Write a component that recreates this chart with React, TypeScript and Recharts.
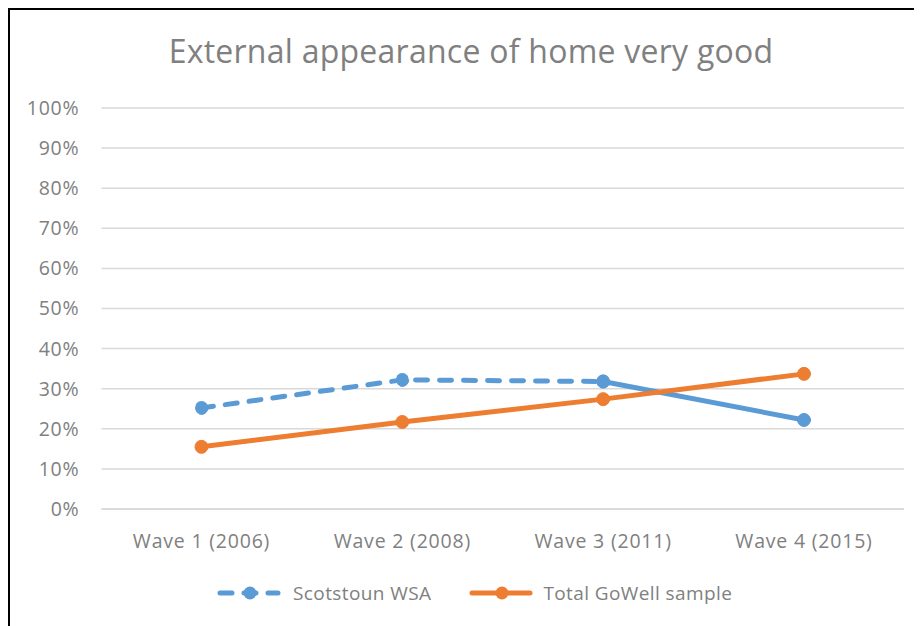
import { LineChart, Line, XAxis, YAxis, CartesianGrid } from "recharts";

const waves = ["Wave 1 (2006)", "Wave 2 (2008)", "Wave 3 (2011)", "Wave 4 (2015)"];
const scotstoun = [25.2, 32.2, 31.8, 22.2];
const totalGoWell = [15.5, 21.7, 27.4, 33.7];
const yTicks = [0, 10, 20, 30, 40, 50, 60, 70, 80, 90, 100];

const BLUE = "#5B9BD5";
const ORANGE = "#ED7D31";
const TEXT = "#808080";
const FONT = "'Open Sans', 'Liberation Sans', sans-serif";

// Scotstoun is dashed up to wave 3, then solid to wave 4
const data = waves.map((wave, i) => ({
  wave,
  scotDash: i <= 2 ? scotstoun[i] : null,
  scotSolid: i >= 2 ? scotstoun[i] : null,
  total: totalGoWell[i],
}));

function LegendItem({ color, dashed, label }: { color: string; dashed?: boolean; label: string }) {
  return (
    <div style={{ display: "flex", alignItems: "center" }}>
      <svg width={64} height={16}>
        <line
          x1={3}
          x2={61}
          y1={8}
          y2={8}
          stroke={color}
          strokeWidth={5}
          strokeLinecap="round"
          strokeDasharray={dashed ? "12 12" : undefined}
        />
        <circle cx={33} cy={8} r={6.5} fill={color} />
      </svg>
      <span style={{ marginLeft: dashed ? 12 : 10, fontSize: 19, letterSpacing: 0.4, color: TEXT }}>
        {label}
      </span>
    </div>
  );
}

export default function App() {
  return (
    <div
      style={{
        position: "relative",
        width: 914,
        height: 618,
        borderTop: "2px solid #000",
        borderLeft: "2px solid #000",
        fontFamily: FONT,
        background: "#fff",
      }}
    >
      <div
        style={{
          position: "absolute",
          top: 19,
          left: 0,
          width: 922,
          textAlign: "center",
          fontSize: 32,
          letterSpacing: 0.25,
          color: TEXT,
        }}
      >
        External appearance of home very good
      </div>
      <LineChart
        width={912}
        height={616}
        data={data}
        margin={{ top: 98, right: 18, left: 0, bottom: 0 }}
      >
        <CartesianGrid vertical={false} stroke="#D9D9D9" strokeWidth={1.5} />
        <XAxis
          dataKey="wave"
          height={117}
          axisLine={{ stroke: "#D9D9D9", strokeWidth: 1.5 }}
          tickLine={false}
          tickSize={0}
          tickMargin={25}
          padding={{ left: 100, right: 100 }}
          tick={{ fontSize: 19.5, fill: TEXT, fontFamily: FONT, letterSpacing: 0.8 }}
        />
        <YAxis
          domain={[0, 100]}
          ticks={yTicks}
          width={91.5}
          axisLine={false}
          tickLine={false}
          tickSize={0}
          tickMargin={22}
          tickFormatter={(v: number) => `${v}%`}
          tick={{ fontSize: 19.5, fill: TEXT, fontFamily: FONT, letterSpacing: 0.8 }}
        />
        <Line
          dataKey="scotDash"
          stroke={BLUE}
          strokeWidth={5}
          strokeDasharray="12 12"
          strokeLinecap="round"
          dot={{ r: 6.5, fill: BLUE, stroke: BLUE, strokeWidth: 1 }}
          isAnimationActive={false}
        />
        <Line
          dataKey="scotSolid"
          stroke={BLUE}
          strokeWidth={5}
          strokeLinecap="round"
          dot={{ r: 6.5, fill: BLUE, stroke: BLUE, strokeWidth: 1 }}
          isAnimationActive={false}
        />
        <Line
          dataKey="total"
          stroke={ORANGE}
          strokeWidth={5}
          strokeLinecap="round"
          dot={{ r: 6.5, fill: ORANGE, stroke: ORANGE, strokeWidth: 1 }}
          isAnimationActive={false}
        />
      </LineChart>
      <div style={{ position: "absolute", top: 570, left: 207, display: "flex", gap: 38 }}>
        <LegendItem color={BLUE} dashed label="Scotstoun WSA" />
        <LegendItem color={ORANGE} label="Total GoWell sample" />
      </div>
    </div>
  );
}
